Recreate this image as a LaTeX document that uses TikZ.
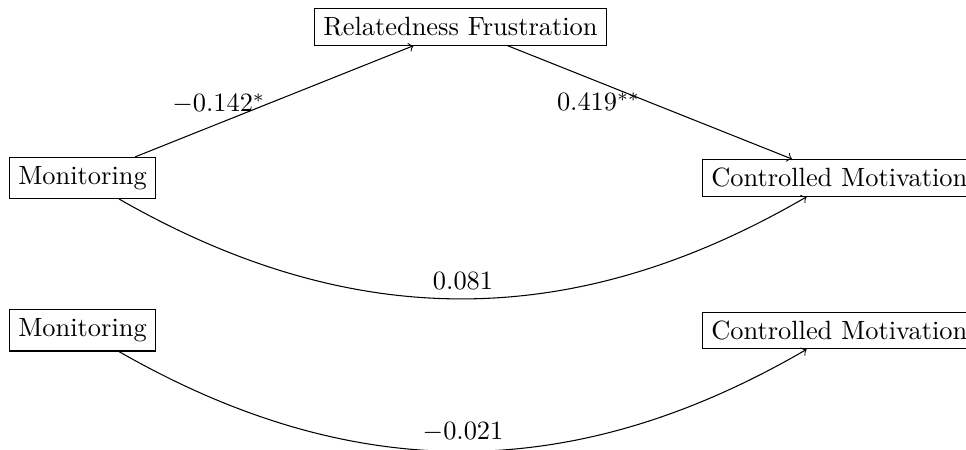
\documentclass[tikz,border=0pt]{standalone}
\begin{document}
\begin{tikzpicture}[
  box/.style={draw, rectangle, inner sep=0.3333em},
  lab/.style={inner sep=0.3333em},
  >=to]
\useasboundingbox (-31.25pt,-102.7pt) rectangle (334.7pt,67.4pt);
\clip (-31.25pt,-102.7pt) rectangle (334.7pt,67.4pt);
\node[box] (mon) at (0,0) {Monitoring};
\node[box] (rf) at (143.2pt,57.2pt) {Relatedness Frustration};
\node[box] (cm) at (286.7pt,0) {Controlled Motivation};
\node[box] (mon2) at (0,-57.8pt) {Monitoring};
\node[box] (cm2) at (286.7pt,-57.8pt) {Controlled Motivation};
\draw[->] (mon) -- node[lab, pos=0.3, above] {$-0.142^{*}$} (rf);
\draw[->] (rf) -- node[lab, pos=0.32, below, yshift=-0.5pt] {$0.419^{**}$} (cm);
\draw[->] (mon) to[bend right] node[lab, above] {$0.081$} (cm);
\draw[->] (mon2) to[bend right] node[lab, above] {$-0.021$} (cm2);
\end{tikzpicture}
\end{document}
